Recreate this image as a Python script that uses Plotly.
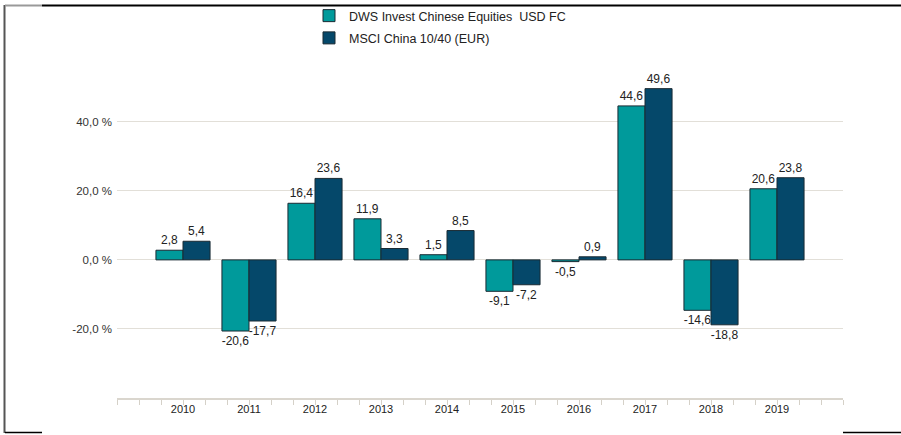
import plotly.graph_objects as go

years = [2010, 2011, 2012, 2013, 2014, 2015, 2016, 2017, 2018, 2019]
dws = [2.8, -20.6, 16.4, 11.9, 1.5, -9.1, -0.5, 44.6, -14.6, 20.6]
msci = [5.4, -17.7, 23.6, 3.3, 8.5, -7.2, 0.9, 49.6, -18.8, 23.8]
ytick_vals = [-20, 0, 20, 40]
ytick_text = ["-20,0 %", "0,0 %", "20,0 %", "40,0 %"]

def fmt(v):
    return f"{v:.1f}".replace(".", ",")

FONT = "Liberation Sans, Arial, sans-serif"
TEAL = "#009A9B"
NAVY = "#05486A"

fig = go.Figure()
fig.add_trace(go.Bar(
    x=years, y=dws, name="DWS Invest Chinese Equities  USD FC", legendgroup="a",
    marker=dict(color=TEAL, line=dict(color="#1a2a33", width=1)),
    text=[fmt(v) for v in dws], textposition="outside",
    textfont=dict(family=FONT, size=12, color="#222"),
    cliponaxis=False, constraintext="none",
))
fig.add_trace(go.Bar(
    x=years, y=msci, name="MSCI China 10/40 (EUR)", legendgroup="b",
    marker=dict(color=NAVY, line=dict(color="#1a2a33", width=1)),
    text=[fmt(v) for v in msci], textposition="outside",
    textfont=dict(family=FONT, size=12, color="#222"),
    cliponaxis=False, constraintext="none",
))

L, R, T, B = 117, 843, 70, 398
W, H = 901, 435
def px(x):
    return (x - L) / (R - L)
def py(y):
    return (B - y) / (B - T)

shapes = [
    dict(type="line", xref="paper", yref="paper", x0=px(4.5), x1=px(4.5), y0=py(5), y1=py(433),
         line=dict(color="#555", width=2)),
    dict(type="line", xref="paper", yref="paper", x0=px(5), x1=px(42), y0=py(5.5), y1=py(5.5),
         line=dict(color="#999", width=2)),
    dict(type="line", xref="paper", yref="paper", x0=px(42), x1=px(901), y0=py(5.5), y1=py(5.5),
         line=dict(color="#000", width=2)),
    dict(type="line", xref="paper", yref="paper", x0=px(5), x1=px(42), y0=py(432.5), y1=py(432.5),
         line=dict(color="#000", width=1.5)),
    dict(type="line", xref="paper", yref="paper", x0=px(843), x1=px(901), y0=py(432.5), y1=py(432.5),
         line=dict(color="#000", width=1.5)),
]

fig.update_layout(
    width=W, height=H,
    margin=dict(l=L, r=W - R, t=T, b=H - B, pad=0, autoexpand=False),
    paper_bgcolor="white", plot_bgcolor="white",
    barmode="group", bargap=0.18, bargroupgap=0,
    font=dict(family=FONT, size=11, color="#333"),
    showlegend=True,
    legend=dict(
        x=px(309), y=py(1), xanchor="left", yanchor="top",
        orientation="v", font=dict(family=FONT, size=12.5, color="#222"),
        bgcolor="rgba(0,0,0,0)", traceorder="grouped", tracegroupgap=3,
    ),
    xaxis=dict(
        range=[2009, 2020], tickvals=years, ticktext=[str(y) for y in years],
        showgrid=False, zeroline=False, showline=True, linecolor="#DAD6CE", linewidth=2,
        ticks="", tickfont=dict(family=FONT, size=11, color="#222"),
        minor=dict(tick0=2009, dtick=1/3, ticks="outside", ticklen=5, tickcolor="#D5D1C8", tickwidth=1),
    ),
    yaxis=dict(
        range=[-40, 55], tickvals=ytick_vals, ticktext=ytick_text,
        showgrid=True, gridcolor="#E2DFD8", gridwidth=1,
        zeroline=True, zerolinecolor="#E2DFD8", zerolinewidth=1,
        showline=False, ticks="", ticklabelstandoff=4,
        tickfont=dict(family=FONT, size=11.5, color="#333"),
    ),
    shapes=shapes,
)

fig.write_html("out.html", config={"displayModeBar": False},
               post_script="document.body.style.margin='0';document.body.style.overflow='hidden';")
